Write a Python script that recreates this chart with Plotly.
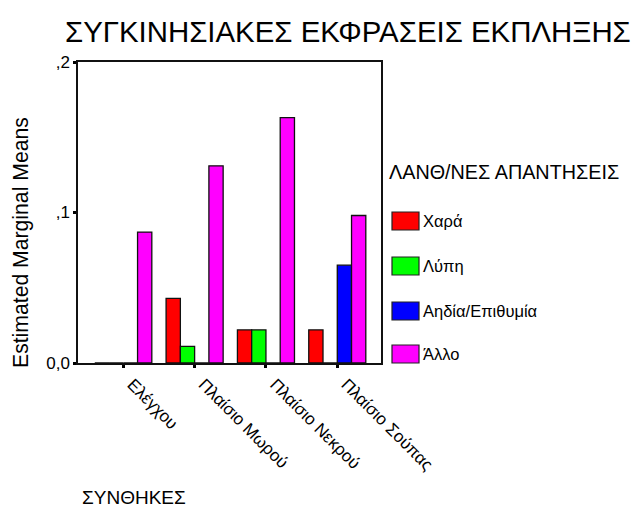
import plotly.graph_objects as go

# Conditions (x categories) and response groups (series)
conditions = ["Ελέγχου", "Πλαίσιο Μωρού", "Πλαίσιο Νεκρού", "Πλαίσιο Σούπας"]
series_names = ["Χαρά", "Λύπη", "Αηδία/Επιθυμία", "Άλλο"]
series_colors = ["#FF0000", "#00FF00", "#0000FF", "#FF00FF"]

chara = [0.0, 0.043, 0.022, 0.022]
lypi = [0.0, 0.011, 0.022, 0.0]
aidia = [0.0, 0.0, 0.0, 0.065]
allo = [0.087, 0.131, 0.163, 0.098]
series_values = [chara, lypi, aidia, allo]

y_tick_vals = [0.0, 0.1, 0.2]
y_tick_text = ["0,0", ",1", ",2"]

FONT = "Liberation Sans, Arial, sans-serif"
W, H = 632, 507
M_L, M_R, M_T, M_B = 78, 251, 62, 144
PW = W - M_L - M_R
PH = H - M_T - M_B


def px(x):
    return (x - M_L) / PW


def py(y):
    return (H - M_B - y) / PH


fig = go.Figure()
for name, color, vals in zip(series_names, series_colors, series_values):
    fig.add_trace(go.Bar(
        x=conditions, y=vals, name=name,
        marker=dict(color=color, line=dict(color="#111111", width=1.3)),
        showlegend=False,
    ))

# Legend drawn as boxes with labels
annotations = [
    dict(text="ΣΥΓΚΙΝΗΣΙΑΚΕΣ ΕΚΦΡΑΣΕΙΣ ΕΚΠΛΗΞΗΣ", xref="paper", yref="paper",
         x=px(347.5), y=py(31), xanchor="center", yanchor="middle",
         showarrow=False, font=dict(family=FONT, size=29.4, color="black")),
    dict(text="Estimated Marginal Means", xref="paper", yref="paper",
         x=px(21), y=py(243), xanchor="center", yanchor="middle", textangle=-90,
         showarrow=False, font=dict(family=FONT, size=21.2, color="black")),
    dict(text="ΣΥΝΘΗΚΕΣ", xref="paper", yref="paper",
         x=px(80), y=py(497), xanchor="left", yanchor="middle",
         showarrow=False, font=dict(family=FONT, size=19, color="black")),
    dict(text="ΛΑΝΘ/ΝΕΣ ΑΠΑΝΤΗΣΕΙΣ", xref="paper", yref="paper",
         x=px(387), y=py(172), xanchor="left", yanchor="middle",
         showarrow=False, font=dict(family=FONT, size=19.8, color="black")),
]
shapes = []
legend_centers = [221, 266, 311, 354]
for name, color, cy in zip(series_names, series_colors, legend_centers):
    shapes.append(dict(type="rect", xref="paper", yref="paper",
                       x0=px(392), x1=px(419), y0=py(cy + 9), y1=py(cy - 9),
                       fillcolor=color, line=dict(color="#222222", width=1.2)))
    annotations.append(dict(text=name, xref="paper", yref="paper",
                            x=px(421), y=py(cy), xanchor="left", yanchor="middle",
                            showarrow=False,
                            font=dict(family=FONT, size=16.5, color="black")))

fig.update_layout(
    width=W, height=H,
    margin=dict(l=M_L, r=M_R, t=M_T, b=M_B, pad=0),
    paper_bgcolor="white", plot_bgcolor="white",
    barmode="group", bargap=0.2, bargroupgap=0,
    font=dict(family=FONT, size=16, color="black"),
    annotations=annotations, shapes=shapes,
)
fig.update_xaxes(
    type="category", range=[-0.635, 3.613],
    showline=True, linecolor="#111111", linewidth=1.5, mirror=True,
    ticks="outside", ticklen=3, tickwidth=3, tickcolor="black",
    tickangle=45, ticklabelshift=9,
    tickfont=dict(family=FONT, size=17, color="black"),
    showgrid=False, zeroline=False,
)
fig.update_yaxes(
    range=[0, 0.2], tickvals=y_tick_vals, ticktext=y_tick_text,
    showline=True, linecolor="#111111", linewidth=1.5, mirror=True,
    ticks="outside", ticklen=3, tickwidth=3, tickcolor="black",
    tickfont=dict(family=FONT, size=17, color="black"),
    showgrid=False, zeroline=False,
)

fig.write_html("out.html")
